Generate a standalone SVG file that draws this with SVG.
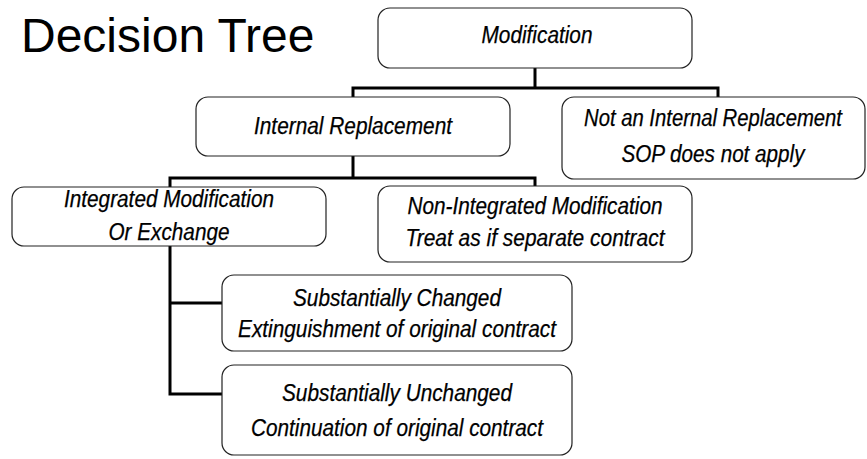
<svg xmlns="http://www.w3.org/2000/svg" width="867" height="459" viewBox="0 0 867 459">
<style>
.box{fill:#fff;stroke:#222;stroke-width:1.2}
.t{font-family:"Liberation Sans",Arial,sans-serif;font-style:italic;font-size:23px;fill:#000;stroke:#000;stroke-width:0.25;text-anchor:middle}
.c{fill:none;stroke:#000;stroke-width:3;stroke-linejoin:miter}
.title{font-family:"Liberation Sans",Arial,sans-serif;font-size:48px;fill:#000}
</style>
<rect width="867" height="459" fill="#fff"/>
<text class="title" x="21" y="52">Decision Tree</text>
<g id="connectors">
<path class="c" d="M535,68 V88 M353,97 V88 H718 V97"/>
<path class="c" d="M353,156 V178 M170,187 V178 H535 V186"/>
<path class="c" d="M170,246 V394 H222 M170,303 H222"/>
</g>
<g id="modification">
<rect class="box" x="378" y="8" width="314" height="60" rx="12"/>
<text class="t" x="537" y="43" textLength="111" lengthAdjust="spacingAndGlyphs">Modification</text>
</g>
<g id="internal">
<rect class="box" x="196" y="97" width="314" height="59" rx="12"/>
<text class="t" x="353" y="134" textLength="198" lengthAdjust="spacingAndGlyphs">Internal Replacement</text>
</g>
<g id="not-internal">
<rect class="box" x="562" y="97" width="303" height="82" rx="12"/>
<text class="t" x="713" y="126" textLength="258" lengthAdjust="spacingAndGlyphs">Not an Internal Replacement</text>
<text class="t" x="713" y="162" textLength="183" lengthAdjust="spacingAndGlyphs">SOP does not apply</text>
</g>
<g id="integrated">
<rect class="box" x="12" y="187" width="314" height="59" rx="12"/>
<text class="t" x="169" y="207" textLength="210" lengthAdjust="spacingAndGlyphs">Integrated Modification</text>
<text class="t" x="169" y="240" textLength="121" lengthAdjust="spacingAndGlyphs">Or Exchange</text>
</g>
<g id="non-integrated">
<rect class="box" x="378" y="186" width="314" height="76" rx="12"/>
<text class="t" x="535" y="214" textLength="255" lengthAdjust="spacingAndGlyphs">Non-Integrated Modification</text>
<text class="t" x="535" y="246" textLength="259" lengthAdjust="spacingAndGlyphs">Treat as if separate contract</text>
</g>
<g id="changed">
<rect class="box" x="222" y="275" width="350" height="76" rx="12"/>
<text class="t" x="397" y="306" textLength="208" lengthAdjust="spacingAndGlyphs">Substantially Changed</text>
<text class="t" x="397" y="337" textLength="318" lengthAdjust="spacingAndGlyphs">Extinguishment of original contract</text>
</g>
<g id="unchanged">
<rect class="box" x="222" y="365" width="350" height="90" rx="12"/>
<text class="t" x="397" y="401" textLength="230" lengthAdjust="spacingAndGlyphs">Substantially Unchanged</text>
<text class="t" x="397" y="436" textLength="292" lengthAdjust="spacingAndGlyphs">Continuation of original contract</text>
</g>
</svg>
